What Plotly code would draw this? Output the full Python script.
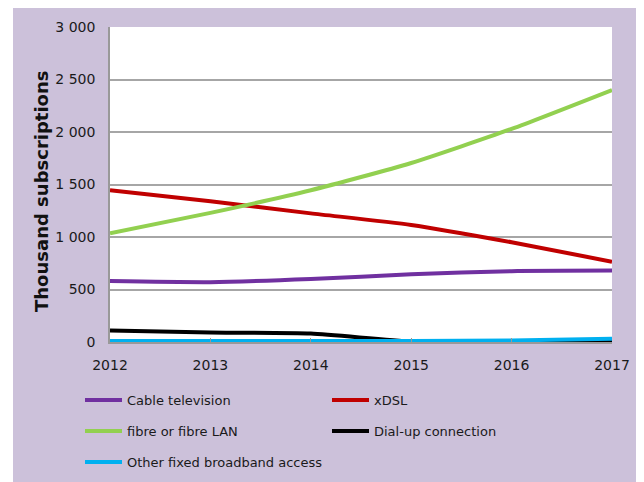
"""Fixed broadband subscriptions by technology, 2012-2017."""

import plotly.graph_objects as go

years = [2012, 2013, 2014, 2015, 2016, 2017]
cable_tv = [580, 570, 600, 645, 675, 680]
xdsl = [1445, 1340, 1225, 1115, 950, 765]
fibre = [1035, 1230, 1445, 1705, 2030, 2400]
dial_up = [110, 90, 80, 5, 5, 0]
other = [10, 10, 10, 10, 15, 30]

y_ticks = [0, 500, 1000, 1500, 2000, 2500, 3000]

_LAVENDER = "#CCC1DA"
_FONT = "DejaVu Sans"

series = [
    ("Cable television", cable_tv, "#7030A0", "legend"),
    ("xDSL", xdsl, "#C00000", "legend"),
    ("fibre or fibre LAN", fibre, "#92D050", "legend2"),
    ("Dial-up connection", dial_up, "#000000", "legend2"),
    ("Other fixed broadband access", other, "#00B0F0", "legend3"),
]

fig = go.Figure()
for name, values, colour, leg in series:
    fig.add_trace(
        go.Scatter(
            x=years,
            y=values,
            name=name,
            mode="lines",
            line=dict(color=colour, width=4, shape="spline", smoothing=0.6),
            legend=leg,
        )
    )


# page has an 8px body margin, so the figure is 8px smaller and the
# helpers below take page pixels (plot area: x 110..612, y 27..342)
def _px_to_paper_x(px):
    return (px - 110) / 502


def _px_to_paper_y(py):
    return (342 - py) / 315


legend_common = dict(
    orientation="h",
    xanchor="left",
    yanchor="middle",
    x=_px_to_paper_x(80),
    entrywidth=195,
    entrywidthmode="pixels",
    itemwidth=37,
    bgcolor="rgba(0,0,0,0)",
    font=dict(family=_FONT, size=13, color="#1A1A1A"),
)

fig.update_layout(
    width=636,
    height=474,
    margin=dict(l=102, r=32, t=19, b=140, autoexpand=False),
    paper_bgcolor=_LAVENDER,
    plot_bgcolor="white",
    separators=", ",
    font=dict(family=_FONT, size=14, color="#1A1A1A"),
    legend=dict(legend_common, y=_px_to_paper_y(400)),
    legend2=dict(legend_common, y=_px_to_paper_y(431)),
    legend3=dict(legend_common, y=_px_to_paper_y(462)),
    shapes=[
        # white strip left of the lavender panel
        dict(
            type="rect",
            xref="paper",
            yref="paper",
            x0=_px_to_paper_x(0),
            x1=_px_to_paper_x(13),
            y0=_px_to_paper_y(500),
            y1=_px_to_paper_y(0),
            fillcolor="white",
            line=dict(width=0),
            layer="below",
        )
    ],
    annotations=[
        dict(
            text="<b>Thousand subscriptions</b>",
            textangle=-90,
            xref="paper",
            yref="paper",
            x=_px_to_paper_x(42),
            y=_px_to_paper_y(191),
            xanchor="center",
            yanchor="middle",
            showarrow=False,
            font=dict(family=_FONT, size=18, color="#111111"),
        )
    ],
)

fig.update_xaxes(
    range=[2012, 2017],
    tickvals=years,
    ticks="inside",
    ticklen=4,
    tickcolor="#999999",
    showgrid=False,
    showline=True,
    linecolor="#999999",
    linewidth=1.5,
    zeroline=False,
    ticklabelstandoff=9,
)
fig.update_yaxes(
    range=[0, 3000],
    tickvals=y_ticks,
    tickformat=",",
    showgrid=True,
    gridcolor="#A6A6A6",
    gridwidth=1.5,
    showline=True,
    linecolor="#999999",
    linewidth=1.5,
    zeroline=False,
    ticklabelstandoff=10,
)

fig.write_html("out.html")
